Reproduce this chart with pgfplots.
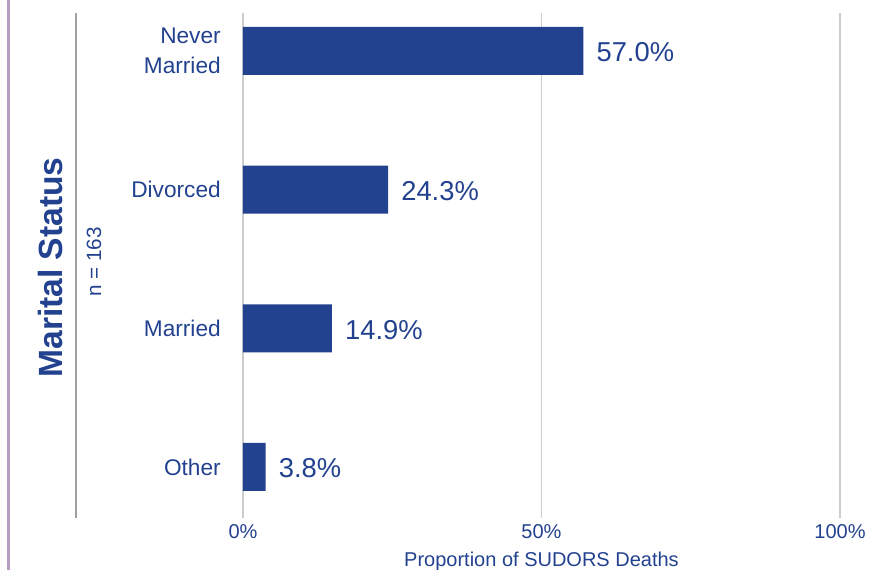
\documentclass[border=0pt]{standalone}
\usepackage{pgfplots}
\pgfplotsset{compat=1.18}
\usepackage{fontspec}
\setmainfont{Liberation Sans}
\definecolor{barblue}{HTML}{22418F}
\definecolor{gridgray}{HTML}{CCCCCC}
\definecolor{rulegray}{HTML}{A0A0A0}
\definecolor{sidepurple}{HTML}{B89CC2}

\begin{document}
\begin{tikzpicture}
\begin{axis}[
  xbar,
  scale only axis,
  width=447.75pt, height=378.75pt,
  xmin=0, xmax=100,
  ymin=-0.368, ymax=3.274,
  bar width=36pt,
  clip=false,
  axis line style={draw=none},
  major tick length=0pt,
  xtick={0,50,100},
  xticklabel={\pgfmathprintnumber{\tick}\%},
  xmajorgrids,
  grid style={gridgray, line width=1pt},
  ytick={0,1,2,3},
  yticklabels={Other,Married,Divorced,{Never\\Married}},
  /pgf/number format/assume math mode=true,
  tick label style={text=barblue},
  xticklabel style={anchor=base, inner sep=0pt, yshift=-15.75pt,
    font=\fontsize{15}{15}\selectfont},
  yticklabel style={align=right, inner sep=0pt, xshift=-16.5pt,
    font=\fontsize{17}{22}\selectfont},
  point meta=x,
  nodes near coords={\pgfmathprintnumber[fixed,fixed zerofill,precision=1]{\pgfplotspointmeta}\%},
  nodes near coords style={anchor=west, inner sep=0pt, xshift=9.75pt, yshift=-1pt,
    text=barblue, font=\fontsize{20.5}{20.5}\selectfont},
]
\addplot[fill=barblue, draw=none] coordinates {(3.8,0) (14.9,1) (24.3,2) (57.0,3)};
\end{axis}
\draw[sidepurple, line width=2.25pt] (-175.9pt,-39pt) -- (-175.9pt,388.5pt);
\draw[rulegray, line width=1pt] (-125.25pt,0pt) -- (-125.25pt,378.75pt);
\node[rotate=90, font=\bfseries\fontsize{25.2}{25.2}\selectfont, text=barblue] at (-144.75pt,187.9pt) {Marital Status};
\node[rotate=90, font=\fontsize{15.5}{15.5}\selectfont, text=barblue] at (-111.75pt,192pt) {n = 163};
\node[anchor=base, inner sep=0pt, font=\fontsize{15}{15}\selectfont, text=barblue] at (223.875pt,-36.75pt) {Proportion of SUDORS Deaths};
\pgfresetboundingbox
\path[use as bounding box] (-182.25pt,-39pt) rectangle (478.5pt,388.5pt);
\end{tikzpicture}
\end{document}
